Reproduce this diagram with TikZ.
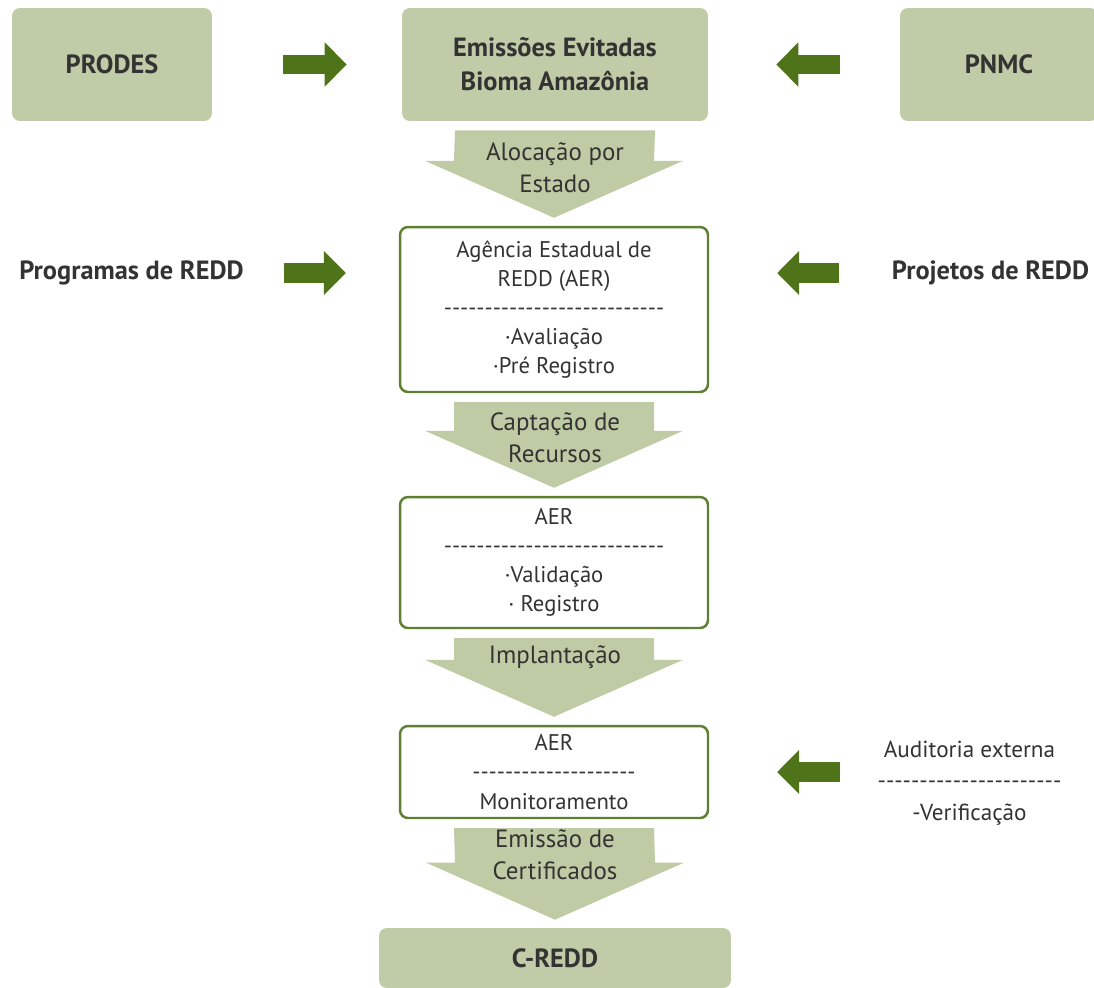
\documentclass[tikz,border=0pt]{standalone}
\usepackage{fontspec}
\setmainfont{PT Sans}
\usetikzlibrary{arrows.meta,calc}
\definecolor{sage}{RGB}{191,204,167}
\definecolor{sagearrow}{RGB}{190,203,164}
\definecolor{leaf}{RGB}{79,115,25}
\definecolor{boxline}{RGB}{94,128,50}
\definecolor{ink}{RGB}{51,51,51}
\tikzset{
  greenbox/.style={rounded corners=4.5pt, fill=sage, text=ink, align=center, inner sep=0pt,
    font=\fontsize{15}{19.3}\selectfont\bfseries},
  aerbox/.style={rounded corners=4.5pt, draw=boxline, line width=1.4pt, fill=white, text=ink,
    align=center, inner sep=0pt, minimum width=6.16cm, font=\fontsize{12.9}{16.6}\selectfont},
  sidelabel/.style={text=ink, inner sep=0pt, align=center},
  fatarrow/.style={leaf, line width=0.4cm, -{Triangle[width=0.86cm,length=0.44cm]}},
  flowarrow/.style={fill=sagearrow},
  flowlabel/.style={text=ink, inner sep=0pt, align=center, font=\fontsize{14.2}{18.3}\selectfont}
}
\newcommand{\hyph}[1]{\foreach\k in {1,...,#1}{-}}
\newcommand{\flowarrow}[2]{%
  \fill[flowarrow] ($(#1.south)+(-100,9)$) -- ($(#1.south)+(100,9)$)
    -- ($(#2.north)+(100,-65)$) -- ($(#2.north)+(129,-65)$)
    -- ($(#2.north)+(0,-8)$) -- ($(#2.north)+(-129,-65)$)
    -- ($(#2.north)+(-100,-65)$) -- cycle;}
\begin{document}
\begin{tikzpicture}[x=0.02cm, y=-0.02cm]
  \useasboundingbox (0,0) rectangle (1094,987);

  % top row
  \node[greenbox, minimum width=4cm, minimum height=2.26cm] (prodes) at (112,64.5) {PRODES};
  \node[greenbox, minimum width=6.12cm, minimum height=2.26cm] (emissoes) at (555,64.5) {Emissões Evitadas\\Bioma Amazônia};
  \node[greenbox, minimum width=3.96cm, minimum height=2.26cm] (pnmc) at (999,64.5) {PNMC};

  % AER boxes
  \node[aerbox, minimum height=3.3cm] (aval) at (554,309.5)
    {Agência Estadual de\\REDD (AER)\\\hyph{27}\\·Avaliação\\·Pré Registro};
  \node[aerbox, minimum height=2.62cm] (valid) at (554,562.5)
    {AER\\\hyph{27}\\·Validação\\· Registro};
  \node[aerbox, minimum height=1.84cm] (monit) at (554,772)
    {AER\\\hyph{20}\\Monitoramento};
  \node[greenbox, minimum width=7.04cm, minimum height=1.2cm] (credd) at (555,958) {C-REDD};

  % side inputs
  \node[sidelabel, minimum width=4.46cm, font=\fontsize{15}{18}\selectfont\bfseries] (prog) at (131.5,273) {Programas de REDD};
  \node[sidelabel, minimum width=3.9cm, font=\fontsize{15}{18}\selectfont\bfseries] (proj) at (990.5,273) {Projetos de REDD};
  \node[sidelabel, minimum width=3.7cm, font=\fontsize{13.2}{17.8}\selectfont] (audit) at (969.5,783)
    {Auditoria externa\\\hyph{22}\\-Verificação};

  \draw[fatarrow, shorten <=1.42cm, shorten >=1.1cm] (prodes) -- (emissoes);
  \draw[fatarrow, shorten <=1.2cm, shorten >=1.36cm] (pnmc) -- (emissoes);
  \draw[fatarrow, shorten <=0.8cm, shorten >=1.06cm] (prog.east) -- (prog -| aval.west);
  \draw[fatarrow, shorten <=1.06cm, shorten >=1.36cm] (proj.west) -- (proj -| aval.east);
  \draw[fatarrow, shorten <=0.74cm, shorten >=1.36cm] (audit.west |- monit.east) -- (monit.east);

  % flow arrows
  \flowarrow{emissoes}{aval}
  \flowarrow{aval}{valid}
  \flowarrow{valid}{monit}
  \flowarrow{monit}{credd}
  \node[flowlabel] (alocacao) at (555,168) {Alocação por\\Estado};
  \node[flowlabel] (captacao) at (555,438) {Captação de\\Recursos};
  \node[flowlabel] (implantacao) at (555,657) {Implantação};
  \node[flowlabel] (emissao) at (555,855) {Emissão de\\Certificados};
\end{tikzpicture}
\end{document}
